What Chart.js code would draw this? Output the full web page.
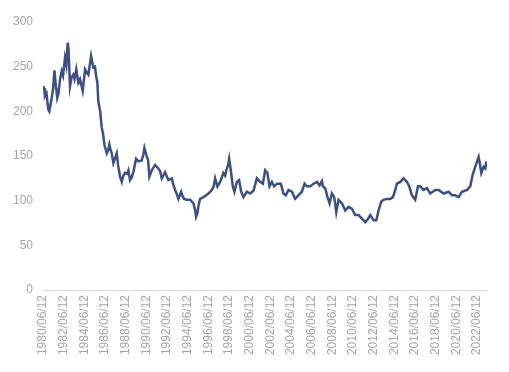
<!DOCTYPE html>
<html><head><meta charset="utf-8">
<script src="https://cdn.jsdelivr.net/npm/chart.js@4/dist/chart.umd.min.js"></script>
<style>html,body{margin:0;padding:0;background:#fff}#wrap{width:509px;height:372px}</style>
</head><body><div id="wrap"><canvas id="c" width="509" height="372"></canvas></div>
<script>
// time in decimal years
const years = [
1980.48,1980.55,1980.64,1980.79,1980.96,1981.06,1981.29,1981.42,1981.56,1981.66,
1981.83,1981.95,1982.10,1982.26,1982.39,1982.58,1982.71,1982.84,1982.92,1983.06,
1983.21,1983.38,1983.50,1983.67,1983.87,1984.03,1984.29,1984.52,1984.66,1984.84,
1985.10,1985.32,1985.48,1985.58,1985.71,1985.80,1985.97,1986.13,1986.26,1986.40,
1986.62,1986.74,1986.87,1986.98,1987.10,1987.26,1987.58,1987.71,1987.90,1988.07,
1988.19,1988.39,1988.58,1988.71,1988.87,1989.02,1989.19,1989.45,1989.68,1990.00,
1990.16,1990.26,1990.49,1990.61,1990.74,1990.97,1991.29,1991.61,1991.78,1991.94,
1992.26,1992.58,1992.91,1993.03,1993.23,1993.37,1993.55,1993.81,1993.95,1994.10,
1994.34,1994.68,1995.00,1995.16,1995.26,1995.39,1995.50,1995.65,1995.97,1996.23,
1996.45,1996.78,1996.96,1997.10,1997.32,1997.58,1997.90,1998.07,1998.23,1998.36,
1998.46,1998.62,1998.81,1998.97,1999.20,1999.42,1999.62,1999.84,2000.17,2000.49,
2000.81,2001.14,2001.46,2001.72,2001.94,2002.16,2002.36,2002.59,2002.81,2003.07,
2003.46,2003.71,2003.94,2004.20,2004.53,2004.84,2005.16,2005.49,2005.75,2005.98,
2006.30,2006.62,2006.95,2007.20,2007.43,2007.53,2007.75,2007.97,2008.17,2008.40,
2008.62,2008.82,2009.04,2009.37,2009.69,2010.00,2010.33,2010.65,2010.97,2011.30,
2011.62,2011.86,2012.11,2012.42,2012.69,2012.91,2013.17,2013.39,2013.72,2014.04,
2014.30,2014.53,2014.69,2015.01,2015.33,2015.66,2015.88,2016.14,2016.46,2016.72,
2016.95,2017.26,2017.60,2017.91,2018.40,2018.72,2019.20,2019.69,2020.01,2020.33,
2020.65,2020.98,2021.47,2021.78,2022.01,2022.27,2022.59,2022.70,2022.85,2023.07,
2023.24,2023.34
];
const values = [
228,226,217,220,202,200,215,225,246,232,
215,220,236,245,240,260,252,277,270,228,
238,241,236,247,232,236,223,247,244,241,
262,249,250,240,232,211,201,182,175,162,
153,156,163,157,153,142,153,140,127,121,
127,131,130,134,123,126,132,147,144,145,
152,159,149,146,127,134,140,136,133,125,
132,123,125,119,112,108,102,110,105,102,
101,101,97,90,82,86,95,102,104,106,
108,112,116,125,116,121,131,128,136,140,
147,134,116,110,121,123,110,104,110,108,
111,125,121,119,134,131,116,121,116,119,
119,108,106,112,110,102,106,110,119,116,
116,119,121,117,122,116,114,104,97,108,
104,87,101,97,89,93,91,84,84,80,
76,79,84,78,78,89,99,101,102,102,
104,112,119,121,125,121,116,106,101,116,
116,112,114,108,112,112,108,110,106,106,
104,110,112,116,129,138,149,142,131,138,
136,144
];
const tickLabels = ["1980/06/12","1982/06/12","1984/06/12","1986/06/12","1988/06/12","1990/06/12",
"1992/06/12","1994/06/12","1996/06/12","1998/06/12","2000/06/12","2002/06/12","2004/06/12",
"2006/06/12","2008/06/12","2010/06/12","2012/06/12","2014/06/12","2016/06/12","2018/06/12",
"2020/06/12","2022/06/12"];
const yTicks = [0,50,100,150,200,250,300];

const tickPos = tickLabels.map(l => parseInt(l.slice(0,4),10) + 0.45);
const font = {family:'"Liberation Sans", Arial, sans-serif', size:12};

new Chart(document.getElementById('c').getContext('2d'), {
  type:'line',
  data:{datasets:[{
    data: years.map((t,i)=>({x:t, y:values[i]})),
    borderColor:'#3d5080', borderWidth:2.5, pointRadius:0, tension:0, fill:false,
    borderJoinStyle:'miter'
  }]},
  options:{
    responsive:false, animation:false,
    plugins:{legend:{display:false}, tooltip:{enabled:false}},
    layout:{padding:{top:22, right:22, left:0, bottom:0}},
    scales:{
      x:{
        type:'linear', min:1980.45, max:2023.4,
        grid:{display:false, drawTicks:false},
        border:{display:true, color:'#d9d9d9', width:1},
        afterBuildTicks: s => { s.ticks = tickPos.map(v => ({value:v})); },
        ticks:{autoSkip:false, maxRotation:90, minRotation:90, padding:5, color:'#a5a5a5',
          font, callback:(v,i)=>tickLabels[i]},
        afterFit: s => { s.height = 82; }
      },
      y:{
        min:0, max:300,
        afterBuildTicks: s => { s.ticks = yTicks.map(v => ({value:v})); },
        grid:{display:false, drawTicks:false},
        border:{display:false},
        ticks:{padding:10, color:'#a5a5a5', font},
        afterFit: s => { s.width = 43; }
      }
    }
  }
});
</script>
</body></html>
